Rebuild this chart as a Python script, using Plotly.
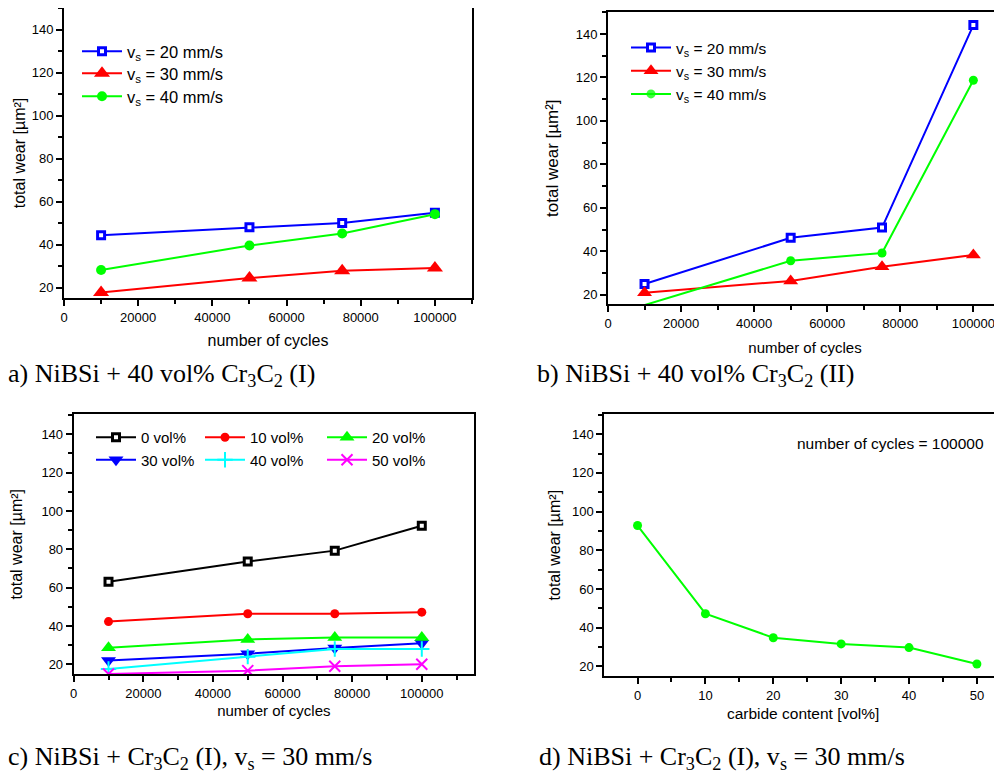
import plotly.graph_objects as go

# ---------------- data ----------------
cycles = [10000, 50000, 75000, 100000]

a_v20 = [44.5, 48.2, 50.2, 55.0]
a_v30 = [17.9, 24.6, 28.0, 29.2]
a_v40 = [28.3, 39.7, 45.3, 54.3]

b_v20 = [24.9, 46.2, 50.9, 144.1]
b_v30 = [20.9, 26.3, 32.9, 38.3]
b_v40 = [15.2, 35.6, 39.2, 118.7]

c_0 = [63.1, 73.6, 79.3, 92.3]
c_10 = [42.3, 46.4, 46.4, 47.2]
c_20 = [28.6, 33.0, 34.0, 34.0]
c_30 = [22.0, 25.5, 28.5, 31.0]
c_40 = [17.6, 24.0, 28.0, 28.0]
c_50 = [15.0, 16.7, 19.0, 20.0]

carbide = [0, 10, 20, 30, 40, 50]
d_wear = [92.8, 47.2, 34.8, 31.6, 29.7, 21.2]

labels_v = ["v<sub>s</sub> = 20 mm/s", "v<sub>s</sub> = 30 mm/s", "v<sub>s</sub> = 40 mm/s"]
labels_c = ["0 vol%", "10 vol%", "20 vol%", "30 vol%", "40 vol%", "50 vol%"]

captions = [
    "a) NiBSi + 40 vol% Cr<sub>3</sub>C<sub>2</sub> (I)",
    "b) NiBSi + 40 vol% Cr<sub>3</sub>C<sub>2</sub> (II)",
    "c) NiBSi + Cr<sub>3</sub>C<sub>2</sub> (I), v<sub>s</sub> = 30 mm/s",
    "d) NiBSi + Cr<sub>3</sub>C<sub>2</sub> (I), v<sub>s</sub> = 30 mm/s",
]

# the page body has an 8px margin, so the figure is shifted by OFF px
OFF = 8
W, H = 1002 - OFF, 775 - OFF
SANS = "Liberation Sans, Arial, sans-serif"
SERIF = "Liberation Serif, Times New Roman, serif"

BLUE, RED, GREEN = "#0000ff", "#ff0000", "#00ff00"
BLACK, CYAN, MAGENTA = "#000000", "#00ffff", "#ff00ff"


def px_x(p):
    return min(1.0, max(0.0, (p - OFF) / W))


def px_y(p):
    return min(1.0, max(0.0, 1 - (p - OFF) / H))


def apx_x(p):
    return (p - OFF) / W


def apx_y(p):
    return 1 - (p - OFF) / H


fig = go.Figure()


def vis(vals, ymin):
    # markers whose centre lies below the axis are not drawn (clipped)
    return [0 if v < ymin else 1 for v in vals]


def add(x, y, name, color, symbol, size, xa, ya, legend, ymin, fill=None, lw=None, showlegend=True):
    mk = dict(symbol=symbol, size=size, color=fill if fill else color,
              opacity=vis(y, ymin))
    if lw is not None:
        mk["line"] = dict(color=color, width=lw)
    fig.add_trace(go.Scatter(
        x=x, y=y, name=name, mode="lines+markers",
        line=dict(color=color, width=2),
        marker=mk, xaxis=xa, yaxis=ya, legend=legend, showlegend=showlegend,
    ))


# ranges
ra_y = [15.3, 150.2]
rb_y = [15.7, 150.0]
rc_y = [14.8, 150.4]
rd_y = [15.0, 150.3]

# panel a (one legend per row)
add(cycles, a_v20, labels_v[0], BLUE, "square", 7, "x", "y", "legend", ra_y[0], fill="white", lw=3)
add(cycles, a_v30, labels_v[1], RED, "triangle-up", 14, "x", "y", "legend6", ra_y[0])
add(cycles, a_v40, labels_v[2], GREEN, "circle", 10, "x", "y", "legend7", ra_y[0])

# panel b
add(cycles, b_v20, labels_v[0], BLUE, "square", 7, "x2", "y2", "legend2", rb_y[0], fill="white", lw=3)
add(cycles, b_v30, labels_v[1], RED, "triangle-up", 13, "x2", "y2", "legend2", rb_y[0])
add(cycles, b_v40, labels_v[2], GREEN, "circle", 9, "x2", "y2", "legend2", rb_y[0])

# panel c (three legend columns)
add(cycles, c_0, labels_c[0], BLACK, "square", 7, "x3", "y3", "legend3", rc_y[0], fill="white", lw=3)
add(cycles, c_30, labels_c[3], BLUE, "triangle-down", 13, "x3", "y3", "legend3", rc_y[0])
add(cycles, c_10, labels_c[1], RED, "circle", 9, "x3", "y3", "legend4", rc_y[0])
add(cycles, c_40, labels_c[4], CYAN, "cross-thin", 11, "x3", "y3", "legend4", rc_y[0], lw=2)
add(cycles, c_20, labels_c[2], GREEN, "triangle-up", 13, "x3", "y3", "legend5", rc_y[0])
add(cycles, c_50, labels_c[5], MAGENTA, "x-thin", 11, "x3", "y3", "legend5", rc_y[0], lw=2)

# panel d
add(carbide, d_wear, "d", GREEN, "circle", 9, "x4", "y4", "legend", rd_y[0], showlegend=False)


def xaxis(domain, rng, dtick, mdtick, anchor, title, tfs=15, standoff=8):
    return dict(domain=domain, range=rng, anchor=anchor, dtick=dtick, tick0=0, tickformat="d",
                showgrid=False, zeroline=False, showline=True, linewidth=2, linecolor="black",
                mirror=True, ticks="outside", ticklen=6, tickwidth=1.5, tickcolor="black",
                minor=dict(dtick=mdtick, ticks="outside", ticklen=4, tickwidth=1.5, tickcolor="black", showgrid=False),
                tickfont=dict(family=SANS, size=13, color="black"),
                title=dict(text=title, font=dict(family=SANS, size=tfs, color="black"), standoff=standoff),
                automargin=False, fixedrange=True)


def yaxis(domain, rng, anchor, tfs=16, standoff=6):
    return dict(domain=domain, range=rng, anchor=anchor, dtick=20, tick0=0,
                showgrid=False, zeroline=False, showline=True, linewidth=2, linecolor="black",
                mirror=True, ticks="outside", ticklen=6, tickwidth=1.5, tickcolor="black",
                minor=dict(dtick=10, ticks="outside", ticklen=4, tickwidth=1.5, tickcolor="black", showgrid=False),
                tickfont=dict(family=SANS, size=13, color="black"),
                title=dict(text="total wear [µm²]", font=dict(family=SANS, size=tfs, color="black"), standoff=standoff),
                automargin=False, fixedrange=True)


fig.update_layout(
    width=W, height=H, margin=dict(l=0, r=0, t=0, b=0),
    paper_bgcolor="white", plot_bgcolor="white",
    xaxis=xaxis([px_x(64), px_x(472)], [0, 110000], 20000, 10000, "y", "number of cycles", 16, 11),
    yaxis=yaxis([px_y(298), px_y(8)], ra_y, "x", 16, 2),
    xaxis2=xaxis([px_x(608), 1.0], [0, 107840], 20000, 10000, "y2", "number of cycles", 15, 13),
    yaxis2=yaxis([px_y(304), px_y(12.3)], rb_y, "x2", 17, 13),
    xaxis3=xaxis([px_x(73.7), px_x(474)], [0, 115000], 20000, 10000, "y3", "number of cycles", 15, 6),
    yaxis3=yaxis([px_y(674.3), px_y(414.3)], rc_y, "x3", 16, 17),
    xaxis4=xaxis([px_x(604.3), 1.0], [-4.9, 53.7], 10, 5, "y4", "carbide content [vol%]", 15.5, 7),
    yaxis4=yaxis([px_y(676), px_y(414.3)], rd_y, "x4", 16, 7),
    showlegend=True,
)

leg_common = dict(bgcolor="rgba(0,0,0,0)", borderwidth=0, xanchor="left", yanchor="top",
                  itemwidth=40, tracegroupgap=0, orientation="v")
font_a = dict(family=SANS, size=16.5, color="black")
fig.update_layout(
    legend=dict(leg_common, x=px_x(77), y=px_y(34), font=font_a),
    legend6=dict(leg_common, x=px_x(77), y=px_y(56), font=font_a),
    legend7=dict(leg_common, x=px_x(77), y=px_y(79), font=font_a),
    legend2=dict(leg_common, x=px_x(626), y=px_y(31), font=dict(family=SANS, size=15.5, color="black")),
    legend3=dict(leg_common, x=px_x(91), y=px_y(421), font=dict(family=SANS, size=15, color="black")),
    legend4=dict(leg_common, x=px_x(200), y=px_y(421), font=dict(family=SANS, size=15, color="black")),
    legend5=dict(leg_common, x=px_x(322), y=px_y(421), font=dict(family=SANS, size=15, color="black")),
)

# annotation in panel d
fig.add_annotation(text="number of cycles = 100000", xref="paper", yref="paper",
                   x=apx_x(795), y=apx_y(443), xanchor="left", yanchor="middle",
                   showarrow=False, font=dict(family=SANS, size=15.5, color="black"))

# captions
cap_pos = [(6, 375), (535, 375), (6, 758), (537, 758)]
for text, (cx, cy) in zip(captions, cap_pos):
    fig.add_annotation(text=text, xref="paper", yref="paper", x=apx_x(cx), y=apx_y(cy),
                       xanchor="left", yanchor="middle", showarrow=False,
                       font=dict(family=SERIF, size=26, color="black"))

fig.write_html("out.html")
